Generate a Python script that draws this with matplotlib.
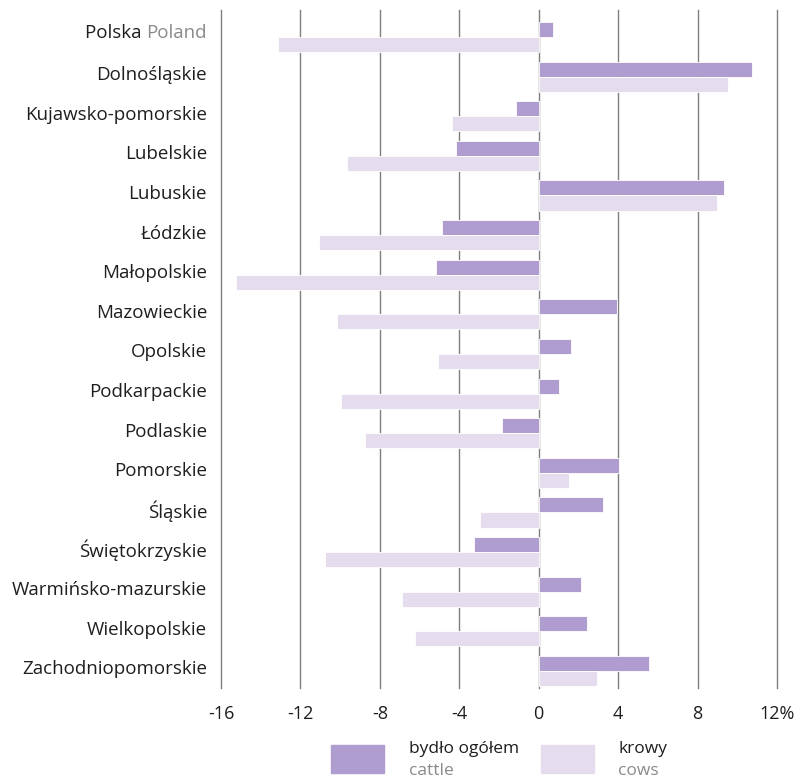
import numpy as np
import matplotlib.pyplot as plt
import matplotlib.transforms as mtransforms
from matplotlib.patches import Rectangle

# regions, top to bottom ("Polska" row is drawn separately with its English name)
regions = ["Polska", "Dolnośląskie", "Kujawsko-pomorskie", "Lubelskie", "Lubuskie",
           "Łódzkie", "Małopolskie", "Mazowieckie", "Opolskie", "Podkarpackie",
           "Podlaskie", "Pomorskie", "Śląskie", "Świętokrzyskie",
           "Warmińsko-mazurskie", "Wielkopolskie", "Zachodniopomorskie"]

# % change
cattle = [0.73, 10.73, -1.15, -4.15, 9.34, -4.86, -5.15, 3.94, 1.64, 1.04,
          -1.86, 4.04, 3.22, -3.27, 2.14, 2.44, 5.53]
cows = [-13.15, 9.53, -4.35, -9.66, 9.0, -11.07, -15.26, -10.16, -5.06, -9.97,
        -8.76, 1.54, -2.96, -10.75, -6.87, -6.25, 2.94]

xticks = [-16, -12, -8, -4, 0, 4, 8, 12]
xticklabels = ["-16", "-12", "-8", "-4", "0", "4", "8", "12%"]

CATTLE_COLOR = "#b09dcf"
COWS_COLOR = "#e5ddee"
GRAY = "#8a8a8a"
TXT = "#1e1e1e"
FS = 13.5

plt.rcParams['font.family'] = ['Open Sans', 'DejaVu Sans']

fig = plt.figure(figsize=(8.06, 7.79), dpi=100)
ax = fig.add_axes([221 / 806, 1 - 688 / 779, 556 / 806, 678 / 779])

y = np.arange(len(regions))
h = 0.38
ax.barh(y - h / 2, cattle, height=h, color=CATTLE_COLOR, edgecolor="white", linewidth=0.6, zorder=3)
ax.barh(y + h / 2, cows, height=h, color=COWS_COLOR, edgecolor="white", linewidth=0.6, zorder=3)

ax.set_xlim(-16, 12)
ax.set_ylim(16.43, -0.68)

for xv in xticks:
    ax.axvline(xv, color="#7f7f7f", linewidth=1.0, zorder=1, clip_on=False)

ax.set_xticks(xticks)
ax.set_xticklabels(xticklabels, fontsize=13, color=TXT)
ax.tick_params(axis="x", length=0, pad=12)

ax.set_yticks(y)
labels = [""] + regions[1:]
ax.set_yticklabels(labels, fontsize=FS, color=TXT)
ax.tick_params(axis="y", length=0, pad=10)

# nudge category labels up a little
lift = mtransforms.ScaledTranslation(0, 2.5 / 72, fig.dpi_scale_trans)
for lbl in ax.get_yticklabels():
    lbl.set_transform(lbl.get_transform() + lift)

for s in ax.spines.values():
    s.set_visible(False)

# Polska / Poland label in two colours
ylab = ax.get_yaxis_transform()
poland = ax.annotate("Poland", xy=(0, 0), xycoords=ylab, xytext=(-10, 2.5),
                     textcoords="offset points", ha="right", va="center",
                     fontsize=FS, color=GRAY)
ax.annotate("Polska ", xy=(0, 0.5), xycoords=poland, ha="right", va="center",
            fontsize=FS, color=TXT)

# legend
fig.patches.append(Rectangle((331 / 806, 1 - 773 / 779), 53 / 806, 28 / 779,
                             transform=fig.transFigure, color=CATTLE_COLOR))
fig.text(409 / 806, 1 - 749 / 779, "bydło ogółem", fontsize=12.5, color=TXT, va="center")
fig.text(409 / 806, 1 - 771 / 779, "cattle", fontsize=12.5, color=GRAY, va="center")

fig.patches.append(Rectangle((541 / 806, 1 - 773 / 779), 53 / 806, 28 / 779,
                             transform=fig.transFigure, color=COWS_COLOR))
fig.text(618 / 806, 1 - 749 / 779, "krowy", fontsize=12.5, color=TXT, va="center")
fig.text(618 / 806, 1 - 771 / 779, "cows", fontsize=12.5, color=GRAY, va="center")

fig.savefig("out.png", dpi=100)
